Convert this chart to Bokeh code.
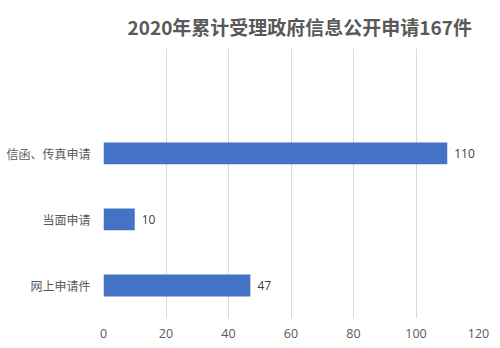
from bokeh.plotting import figure
from bokeh.models import ColumnDataSource, Range1d, FixedTicker, LabelSet
from bokeh.core.properties import value
from bokeh.embed import file_html
from bokeh.resources import INLINE

title_text = "2020年累计受理政府信息公开申请167件"
categories = ["网上申请件", "当面申请", "信函、传真申请"]
values = [47, 10, 110]
x_ticks = [0, 20, 40, 60, 80, 100, 120]

ypos = [1, 2, 3]
src = ColumnDataSource(dict(y=ypos, v=values, lab=[str(v) for v in values], cat=categories))

FONT = "Noto Sans CJK SC"
NUMFONT = "Open Sans"

p = figure(width=500, height=348, output_backend="svg", toolbar_location=None,
           frame_width=375, frame_height=270,
           min_border_left=103, min_border_right=22, min_border_top=48, min_border_bottom=30,
           x_range=Range1d(0, 120), y_range=Range1d(0.5, 4.59))

p.title.text = title_text
p.title.align = "left"
p.title.offset = 24
p.title.text_font = FONT
p.title.text_font_size = "19px"
p.title.text_font_style = "bold"
p.title.text_color = "#595959"
p.title.standoff = 18

p.hbar(y="y", right="v", left=0, height=0.33, source=src, color="#4472C4", line_color=None)

labels = LabelSet(x="v", y="y", text="lab", source=src, x_offset=7, text_baseline="middle",
                  text_font=value(NUMFONT), text_font_size=value("12px"), text_color="#404040")
p.add_layout(labels)

p.outline_line_color = None
p.ygrid.grid_line_color = None
p.xgrid.grid_line_color = "#d9d9d9"
p.xgrid.ticker = FixedTicker(ticks=x_ticks)

p.xaxis.ticker = FixedTicker(ticks=x_ticks)
p.yaxis.ticker = FixedTicker(ticks=ypos)
p.yaxis.major_label_overrides = {y: c for y, c in zip(ypos, categories)}
for ax in (p.xaxis, p.yaxis):
    ax.axis_line_color = None
    ax.major_tick_line_color = None
    ax.minor_tick_line_color = None
    ax.major_tick_out = 0
    ax.major_tick_in = 0
    ax.minor_tick_out = 0
    ax.major_label_text_color = "#595959"
p.yaxis.major_label_text_font = FONT
p.yaxis.major_label_text_font_size = "12px"
p.xaxis.major_label_text_font = NUMFONT
p.xaxis.major_label_text_font_size = "12.5px"
p.xaxis.major_label_standoff = 10
p.yaxis.major_label_standoff = 13

open("out.html", "w").write(file_html(p, INLINE))
